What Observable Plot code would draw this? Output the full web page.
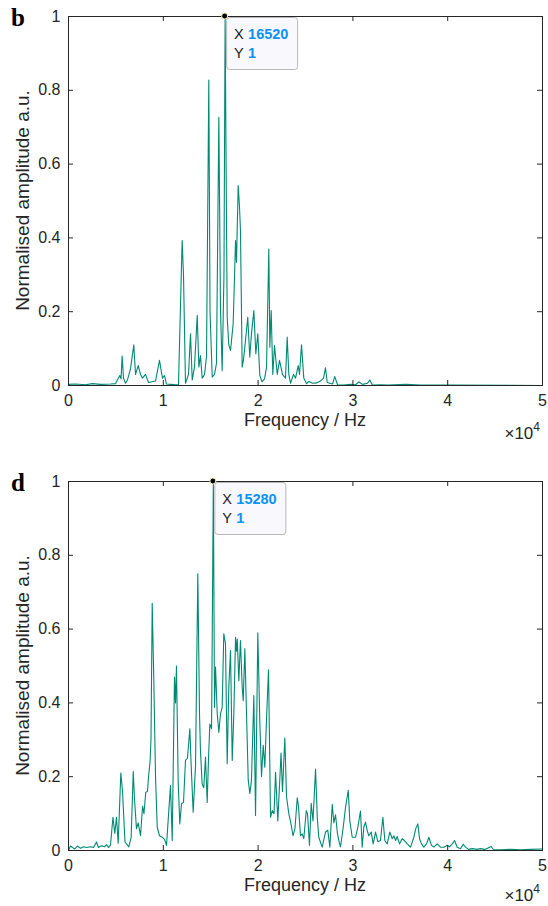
<!DOCTYPE html>
<html><head><meta charset="utf-8">
<script src="https://cdn.jsdelivr.net/npm/d3@7"></script>
<script src="https://cdn.jsdelivr.net/npm/@observablehq/plot@0.6"></script>
<style>
body{margin:0;background:#fff;}
#wrap{position:relative;width:548px;height:906px;}
#wrap svg{display:block;}
</style></head>
<body><div id="wrap"></div>
<script>
// ---- Data (frequency in Hz, normalised amplitude) ----
const freqB = [0,740,1790,2530,3380,4430,4960,5140,5410,5540,
5660,5800,6010,6220,6540,6890,7070,7350,7600,7810,
8120,8440,9180,9600,9810,9920,10130,10340,10760,11290,
11600,11990,12130,12340,12660,12870,13050,13290,13580,13750,
13920,14100,14350,14560,14800,14930,15160,15400,15610,15860,
16030,16210,16400,16520,16650,16740,16910,17090,17370,17620,
17720,17900,18040,18140,18320,18460,18670,18910,19120,19300,
19550,19760,19970,20180,20410,20680,20890,21130,21240,21380,
21550,21730,22020,22260,22570,22890,23070,23240,23420,23740,
23950,24230,24370,24580,24820,25110,25350,25740,26160,26580,
26900,27110,27290,27850,28090,28380,29010,29750,30280,30620,
31010,31540,31780,32070,32910,33760,35550,37130,40300,50000];
const ampB = [0.003,0.004,0.002,0.005,0.003,0.004,0.005,0.014,0.027,0.018,
0.08,0.02,0.006,0.015,0.045,0.11,0.03,0.054,0.03,0.02,
0.03,0.008,0.012,0.068,0.035,0.02,0.027,0.004,0.003,0.002,
0.002,0.393,0.3,0.006,0.03,0.14,0.015,0.05,0.19,0.05,
0.081,0.02,0.03,0.08,0.828,0.2,0.023,0.03,0.06,0.727,
0.21,0.04,0.3,1.0,0.5,0.185,0.11,0.095,0.168,0.393,
0.334,0.542,0.483,0.42,0.05,0.07,0.122,0.185,0.077,0.14,
0.203,0.086,0.14,0.027,0.01,0.018,0.05,0.37,0.104,0.203,
0.03,0.108,0.03,0.068,0.03,0.02,0.131,0.03,0.006,0.03,
0.02,0.054,0.03,0.11,0.02,0.005,0.011,0.006,0.007,0.012,
0.02,0.048,0.008,0.004,0.024,0.002,0.001,0.003,0.002,0.01,
0.003,0.006,0.015,0.001,0.002,0.001,0.003,0.001,0.001,0.0];

const freqD = [0,210,390,630,950,1270,1580,1900,2320,2640,
2950,3160,3480,3800,4010,4220,4430,4690,4880,5060,
5240,5520,5700,5960,6360,6610,6830,6960,7170,7350,
7600,7810,7960,8150,8330,8440,8600,8700,8830,9000,
9180,9360,9600,9880,10130,10340,10580,10760,10940,11180,
11290,11390,11570,11740,11920,12130,12340,12550,12800,12940,
13150,13400,13640,13820,13920,14100,14270,14450,14630,14770,
14910,15090,15280,15400,15510,15690,15860,16030,16210,16380,
16560,16740,16910,17090,17270,17440,17620,17720,17800,17970,
18140,18320,18430,18600,18780,18960,19130,19300,19550,19730,
19970,20180,20360,20540,20710,20890,21100,21310,21490,21680,
21840,22080,22420,22570,22820,23000,23240,23470,23680,23890,
24130,24260,24470,24650,24820,25080,25210,25420,25600,25790,
26060,26240,26400,26760,27110,27350,27570,27820,27990,28170,
28350,28510,28690,28980,29220,29510,29670,29930,30280,30520,
30800,30980,31150,31330,31510,31680,31930,32140,32390,32630,
32910,33160,33370,33620,33890,34150,34320,34500,34670,34920,
35200,35440,35730,36080,36430,36640,36850,37030,37240,37480,
37770,38010,38290,38540,38890,39240,39590,39950,40190,40480,
40720,41000,41350,41640,41880,42200,42620,43040,43460,43880,
44200,44590,44830,45570,46630,47680,48740,50000];
const ampD = [0,0.012,0.009,0.004,0.012,0.006,0.01,0.008,0.01,0.008,
0.023,0.008,0.013,0.01,0.016,0.008,0.015,0.09,0.046,0.09,
0.02,0.21,0.16,0.023,0.01,0.036,0.214,0.14,0.059,0.075,
0.04,0.12,0.1,0.158,0.16,0.2,0.24,0.3,0.67,0.46,
0.2,0.063,0.04,0.036,0.03,0.014,0.108,0.176,0.027,0.47,
0.40,0.50,0.185,0.072,0.127,0.13,0.244,0.25,0.33,0.23,
0.104,0.23,0.75,0.37,0.27,0.18,0.17,0.253,0.13,0.25,
0.343,0.33,1.0,0.388,0.497,0.37,0.32,0.37,0.388,0.587,
0.56,0.235,0.443,0.542,0.244,0.37,0.578,0.54,0.573,0.46,
0.569,0.443,0.406,0.547,0.37,0.19,0.154,0.19,0.42,0.095,
0.59,0.35,0.2,0.285,0.226,0.357,0.49,0.09,0.108,0.1,
0.212,0.08,0.264,0.16,0.305,0.145,0.1,0.072,0.04,0.06,
0.143,0.12,0.04,0.045,0.032,0.108,0.1,0.014,0.128,0.08,
0.221,0.09,0.036,0.009,0.05,0.055,0.009,0.125,0.075,0.097,
0.05,0.027,0.01,0.063,0.117,0.163,0.081,0.036,0.036,0.063,
0.107,0.009,0.063,0.077,0.054,0.04,0.05,0.018,0.05,0.024,
0.027,0.09,0.027,0.018,0.05,0.032,0.04,0.027,0.038,0.018,
0.032,0.027,0.018,0.009,0.036,0.06,0.072,0.032,0.018,0.009,
0.018,0.036,0.014,0.009,0.018,0.009,0.009,0.014,0.01,0.018,
0.027,0.009,0.005,0.017,0.009,0.003,0.005,0.003,0.005,0.003,
0.006,0.011,0.002,0.002,0.003,0.002,0.003,0.004];

const xTicks = [0, 10000, 20000, 30000, 40000, 50000];
const xTickLabels = ["0", "1", "2", "3", "4", "5"];
const yTicks = [0, 0.2, 0.4, 0.6, 0.8, 1];
const yTickLabels = ["0", "0.2", "0.4", "0.6", "0.8", "1"];
const panelLetters = ["b", "d"];
const xLabel = "Frequency / Hz";
const yLabel = "Normalised amplitude a.u.";
const xExponent = "4";

// ---- drawing ----
const AX = "#262626";
const LINE = "#008a74";
const FONT = "'Liberation Sans', Arial, Helvetica, sans-serif";
const W = 548, H = 453;

function panel(freq, amp, letter, mt, mb, expOffset) {
  const data = freq.map((f, i) => ({f, a: amp[i]}));
  const peak = data.reduce((m, d) => d.a > m.a ? d : m, data[0]);
  const fw = W - 68 - 6, fh = H - mt - mb;
  const tip = (index, scales) => {
    const px = scales.x(peak.f), py = scales.y(peak.a);
    const g = d3.create("svg:g").attr("text-anchor", "start");
    g.append("rect").attr("x", px + 2).attr("y", py + 1.5).attr("width", 71).attr("height", 52)
      .attr("rx", 3).attr("fill", "#f9f9fd").attr("stroke", "#b8b8b8").attr("stroke-width", 1);
    const t = g.append("g").attr("font-family", FONT).attr("font-size", 14.5).attr("text-anchor", "start");
    t.append("text").attr("x", px + 9.5).attr("y", py + 23).attr("fill", "#1a1a1a").text("X");
    t.append("text").attr("x", px + 23.5).attr("y", py + 23).attr("fill", "#0a93f5").attr("font-weight", "bold").text(String(peak.f));
    t.append("text").attr("x", px + 9.5).attr("y", py + 41.5).attr("fill", "#1a1a1a").text("Y");
    t.append("text").attr("x", px + 23.5).attr("y", py + 41.5).attr("fill", "#0a93f5").attr("font-weight", "bold").text(String(peak.a));
    g.append("circle").attr("cx", px).attr("cy", py).attr("r", 3).attr("fill", "#000").attr("stroke", "#f4f0b0").attr("stroke-width", 1);
    return g.node();
  };
  const svg = Plot.plot({
    width: W, height: H,
    marginLeft: 68, marginRight: 6, marginTop: mt, marginBottom: mb,
    x: {domain: [0, 50000], axis: null},
    y: {domain: [0, 1], axis: null},
    style: {fontFamily: FONT, color: AX, background: "transparent", overflow: "visible"},
    marks: [
      Plot.line(data, {x: "f", y: "a", stroke: LINE, strokeWidth: 1.1}),
      Plot.frame({stroke: AX, strokeWidth: 1}),
      Plot.tickX(xTicks, {x: d => d, stroke: AX, insetTop: fh - 5}),
      Plot.tickX(xTicks, {x: d => d, stroke: AX, insetBottom: fh - 5}),
      Plot.tickY(yTicks, {y: d => d, stroke: AX, insetRight: fw - 5}),
      Plot.tickY(yTicks, {y: d => d, stroke: AX, insetLeft: fw - 5}),
      Plot.axisX(xTicks, {tickSize: 0, tickPadding: 9, fontSize: 16, label: null,
        tickFormat: d => xTickLabels[xTicks.indexOf(d)]}),
      Plot.axisY(yTicks, {tickSize: 0, tickPadding: 8, fontSize: 16, label: null,
        tickFormat: d => yTickLabels[yTicks.indexOf(d)]}),
      tip
    ]
  });
  const s = d3.select(svg);
  const bottom = H - mb, cx = 68 + fw / 2, cy = mt + fh / 2;
  s.append("text").attr("x", cx).attr("y", bottom + 41).attr("text-anchor", "middle")
    .attr("font-family", FONT).attr("font-size", 18).attr("fill", AX).text(xLabel);
  s.append("text").attr("transform", `translate(29,${cy}) rotate(-90)`).attr("text-anchor", "middle")
    .attr("font-family", FONT).attr("font-size", 19).attr("fill", AX).text(yLabel);
  const ex = s.append("text").attr("x", W - 8).attr("y", bottom + expOffset).attr("text-anchor", "end")
    .attr("font-family", FONT).attr("font-size", 17).attr("fill", AX);
  ex.append("tspan").text("\u00d710");
  ex.append("tspan").attr("font-size", 12).attr("dy", -8).text(xExponent);
  s.append("text").attr("x", 11).attr("y", mt + 10).attr("text-anchor", "start")
    .attr("font-family", "'Liberation Serif','Times New Roman',serif")
    .attr("font-weight", "bold").attr("font-size", 25).attr("fill", "#000").text(letter);
  return svg;
}

const wrap = document.getElementById("wrap");
wrap.appendChild(panel(freqB, ampB, panelLetters[0], 16, 68, 54));
wrap.appendChild(panel(freqD, ampD, panelLetters[1], 28, 56, 51));
</script>
</body></html>
